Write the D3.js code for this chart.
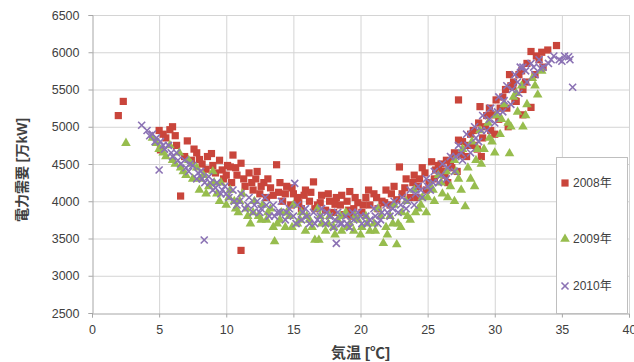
<!DOCTYPE html>
<html>
<head>
<meta charset="utf-8">
<script src="https://cdn.jsdelivr.net/npm/d3@7"></script>
<style>
  html, body { margin: 0; padding: 0; background: #fff; }
  svg text { font-family: "Liberation Sans", "Noto Sans CJK JP", sans-serif; fill: #404040; }
</style>
</head>
<body>
<div id="chart"></div>
<script>
// [気温, 電力需要] per year
var data2008 = [
  [1.96,5150],[2.33,5340],
  [5.0,4950],[5.3,4900],[5.8,4960],[6.0,5000],[5.1,4690],[6.3,4750],[6.6,4070],[7.1,4810],[6.9,4600],[7.4,4550],
  [7.8,4650],[8.2,4500],[8.5,4430],[8.9,4640],[9.2,4380],[9.5,4550],[9.8,4300],[10.1,4480],[10.5,4620],[10.3,4460],[10.4,4250],
  [10.8,4350],[11.1,4510],[11.1,3340],[11.4,4200],[11.7,4380],[12.0,4150],[12.2,4300],[12.5,4100],[12.8,4250],[13.0,4050],
  [13.3,4180],[13.75,4490],[13.9,4120],[14.2,4000],[14.5,4200],[14.8,3950],[15.0,4100],
  [15.3,4050],[15.6,3900],[15.9,4150],[16.2,4000],[16.5,4260],[16.8,3950],[17.1,4080],[17.4,3880],[17.7,4000],[18.0,3850],
  [18.2,4050],[18.5,3950],[18.8,3820],[19.0,4000],[19.2,4130],[19.5,3900],[19.8,3980],[20.1,3850],[20.4,4050],
  [20.7,3950],[21.0,4100],[21.3,3900],[21.6,4000],[21.9,4150],[22.2,3950],[22.5,4200],[22.9,4460],[23.1,4100],[23.4,4300],
  [23.7,4050],[24.0,4350],[24.3,4200],[24.6,4450],[24.9,4150],[25.3,4530],[25.5,4300],[25.8,4480],
  [26.1,4400],[26.4,4550],[26.7,4510],[26.9,4580],[27.0,4650],[27.3,5360],[27.3,4820],[27.2,4400],[27.6,4800],[27.9,4600],
  [28.2,4900],[28.5,4750],[28.9,5270],[28.8,5050],[29.1,4850],[29.4,5150],[29.9,5160],[29.7,4950],[30.1,5360],[30.3,5100],
  [30.6,5400],[30.9,5250],[31.1,5700],[31.35,5540],[31.6,5340],[31.2,5550],[31.5,5350],[31.8,5700],[32.1,5160],[32.1,5500],
  [32.4,5850],[32.7,5260],[32.7,6010],[33.0,5700],[33.3,5900],[33.95,6030],[34.6,6090],[33.6,5800],[31.0,5000],[29.0,4600],
  [5.5,4850],[6.2,4880],[7.6,4700],[8.0,4560],[8.6,4600],[9.0,4480],[9.7,4420],[10.0,4350],[10.7,4450],[11.3,4300],
  [11.9,4250],[12.3,4400],[12.6,4200],[13.1,4300],[13.5,4080],[14.0,4250],[14.4,4100],[14.9,4180],[15.4,3980],[15.8,4080],
  [16.3,4120],[16.6,3900],[17.0,3980],[17.6,4100],[18.1,3960],[18.6,4080],[19.1,3880],[19.6,4050],[20.2,3950],[20.6,4150],
  [21.2,4050],[21.8,3980],[22.3,4100],[22.7,4020],[23.3,4180],[23.9,4250],[24.4,4300],[24.8,4380],[25.1,4250],[25.6,4420],
  [26.0,4500],[26.3,4350],[26.8,4450],[27.5,4620],[28.0,4750],[28.4,4950],[28.7,4700],[29.3,5000],[29.6,5250],[30.4,5250],
  [30.8,5500],[31.4,5600],[32.0,5750],[32.3,5600],[33.1,5950],[33.5,6000],[30.0,4900],[26.5,4250],[24.2,4050],[19.3,3800]
];
var data2009 = [
  [2.53,4780],
  [4.5,4850],[5.0,4700],[5.5,4600],[5.8,4750],[6.2,4500],[6.5,4650],[6.8,4400],[7.2,4550],[7.5,4300],[7.8,4450],[8.0,4150],
  [8.3,4350],[8.7,4200],[9.0,4400],[9.3,4100],[9.6,4250],[10.0,3950],[10.3,4150],
  [10.6,4000],[10.9,3850],[11.2,4100],[11.5,3900],[11.8,3700],[12.1,4000],[12.4,3800],[12.7,3950],[13.0,3750],[13.3,3900],
  [13.6,3460],[13.8,3700],[14.1,3850],[14.4,3650],[14.7,3800],[15.0,3950],
  [15.3,3700],[15.6,3850],[15.9,3600],[16.2,3750],[16.6,3480],[16.9,3480],[16.8,3900],[17.1,3700],[17.4,3600],[17.7,3800],
  [18.0,3650],[18.3,3750],[18.6,3600],[18.9,3850],[19.2,3700],[19.5,3600],[19.8,3750],[20.1,3650],
  [20.4,3800],[20.7,3600],[21.0,3700],[21.3,3900],[21.7,3435],[21.9,3650],[22.2,3800],[22.7,3420],[22.5,3950],[22.8,3700],
  [23.1,3850],[23.4,4000],[23.7,3750],[24.0,4150],[24.3,3900],[24.6,4050],[24.9,3850],
  [25.2,4200],[25.5,4000],[25.8,4350],[26.1,4100],[26.4,4400],[26.7,4200],[27.0,4550],[27.3,4300],[27.6,4700],[27.8,3930],
  [28.0,4450],[28.3,4800],[28.6,4550],[28.9,4950],[29.2,4700],[29.5,5050],[29.8,4800],
  [30.1,5150],[30.4,4900],[30.7,5300],[31.1,4640],[31.0,5050],[31.4,5400],[31.7,5200],[32.1,5000],[32.0,5550],[32.4,5300],
  [32.8,5650],[33.2,5430],[33.5,5750],
  [4.8,4780],[5.3,4650],[6.0,4550],[6.6,4450],[7.0,4350],[7.4,4500],[8.1,4300],[8.5,4100],[9.1,4250],[9.5,4000],
  [10.2,4050],[10.7,3900],[11.0,4000],[11.6,3800],[12.0,3850],[12.6,3750],[13.1,3850],[13.5,3650],[14.0,3750],[14.5,3850],
  [14.9,3650],[15.5,3750],[16.0,3800],[16.4,3650],[17.0,3800],[17.6,3700],[18.1,3550],[18.5,3800],[19.0,3650],[19.6,3800],
  [20.0,3550],[20.5,3700],[21.1,3600],[21.5,3800],[22.0,3550],[22.4,3700],[23.0,3650],[23.5,3800],[24.1,3850],[24.5,3950],
  [25.0,4050],[25.4,4150],[26.0,4250],[26.5,4050],[27.1,4400],[27.5,4150],[28.2,4300],[28.7,4700],[29.0,4500],[29.6,4850],
  [30.0,4650],[30.5,5100],[31.2,5000],[31.6,5450],[32.3,5150],[33.0,5550],[27.0,4000],[28.5,4200]
];
var data2010 = [
  [3.7,5020],[4.1,4950],[4.5,4900],[4.8,4850],[5.1,4800],[5.0,4420],[5.4,4700],[5.7,4750],[6.0,4600],[6.3,4650],[6.6,4500],
  [6.9,4550],[7.2,4400],[7.5,4480],[7.8,4300],[8.1,4400],[8.36,3480],[8.4,4250],[8.7,4330],[9.0,4150],[9.3,4250],[9.6,4100],[9.9,4200],
  [10.2,4050],[10.5,4150],[10.8,3950],[11.1,4100],[11.4,3900],[11.7,4050],[12.0,3850],[12.3,4000],[12.6,3900],[12.9,4050],
  [13.2,3800],[13.5,3950],[13.8,3850],[14.1,4000],[14.4,3750],[14.7,3900],[15.1,4240],[15.0,3800],
  [15.3,3950],[15.6,3750],[15.9,3900],[16.2,3700],[16.5,3850],[16.8,3750],[17.1,3900],[17.4,3700],[17.7,3800],[18.0,3650],
  [18.2,3435],[18.3,3850],[18.6,3700],[18.9,3800],[19.2,3650],[19.5,3750],[19.8,3850],[20.1,3700],
  [20.4,3800],[20.7,3750],[21.0,3900],[21.3,3700],[21.6,3850],[21.9,3950],[22.2,3800],[22.5,4000],[22.8,3850],[23.1,4050],
  [23.4,3900],[23.7,4150],[24.0,3950],[24.3,4200],[24.6,4050],[24.9,4300],
  [25.2,4150],[25.5,4400],[25.8,4250],[26.1,4500],[26.4,4300],[26.7,4600],[27.0,4400],[27.3,4750],[27.6,4550],[27.9,4900],
  [28.2,4650],[28.5,5000],[28.8,4800],[29.1,5150],[29.4,4950],[29.7,5250],[30.0,5050],
  [30.3,5400],[30.6,5200],[30.9,5550],[31.2,5300],[31.5,5700],[31.8,5450],[31.9,5800],[32.1,5800],[32.4,5600],[32.7,5850],
  [33.0,5700],[33.4,5785],[33.3,5900],[33.6,5800],[34.0,5850],[34.4,5950],[34.8,5900],[35.2,5950],[35.5,5940],[35.8,5530],[35.6,5900],
  [4.3,4880],[4.7,4800],[5.3,4750],[5.9,4650],[6.4,4550],[7.0,4450],[7.3,4500],[7.9,4380],[8.2,4300],[8.8,4250],
  [9.2,4180],[9.7,4150],[10.0,4100],[10.6,4000],[11.0,4000],[11.6,3950],[12.1,3950],[12.5,3850],[13.0,3950],[13.6,3800],
  [14.0,3850],[14.5,3850],[15.2,3700],[15.7,3850],[16.0,3800],[16.6,3700],[17.0,3800],[17.5,3850],[18.1,3750],[18.5,3700],
  [19.0,3700],[19.4,3850],[20.0,3800],[20.5,3700],[21.1,3800],[21.5,3750],[22.0,3850],[22.4,3900],[23.0,3950],[23.5,4000],
  [24.1,4100],[24.5,4150],[25.0,4200],[25.4,4250],[26.0,4350],[26.5,4450],[27.1,4600],[27.5,4650],[28.0,4750],[28.6,4850],
  [29.0,4950],[29.6,5100],[30.2,5200],[30.7,5350],[31.3,5500],[31.7,5600],[32.3,5750],[32.9,5800],[34.2,5900],[35.0,5880]
];

var seriesNames = ["2008年", "2009年", "2010年"];
var xTicks = [0, 5, 10, 15, 20, 25, 30, 35, 40];
var yTicks = [2500, 3000, 3500, 4000, 4500, 5000, 5500, 6000, 6500];

var width = 634, height = 362;
var margin = {left: 92, right: 5, top: 15, bottom: 49};

var svg = d3.select("#chart").append("svg")
  .attr("width", width)
  .attr("height", height);

var x = d3.scaleLinear().domain([0, 40]).range([margin.left, width - margin.right]);
var y = d3.scaleLinear().domain([2500, 6500]).range([height - margin.bottom, margin.top]);

// gridlines
svg.append("g").selectAll("line")
  .data(yTicks.slice(1))
  .enter().append("line")
  .attr("x1", x(0)).attr("x2", x(40))
  .attr("y1", function(d) { return y(d) + 0.5; })
  .attr("y2", function(d) { return y(d) + 0.5; })
  .attr("stroke", "#d4d4d4");

svg.append("g").selectAll("line")
  .data(xTicks.slice(1))
  .enter().append("line")
  .attr("y1", y(2500)).attr("y2", y(6500))
  .attr("x1", function(d) { return x(d) + 0.5; })
  .attr("x2", function(d) { return x(d) + 0.5; })
  .attr("stroke", "#d4d4d4");

// axes
var xAxis = d3.axisBottom(x).tickValues(xTicks).tickSize(4).tickPadding(8);
var yAxis = d3.axisLeft(y).tickValues(yTicks).tickSize(4).tickPadding(9).tickFormat(d3.format("d"));

var gx = svg.append("g").attr("transform", "translate(0," + (y(2500) + 0.5) + ")").call(xAxis);
var gy = svg.append("g").attr("transform", "translate(" + (x(0) + 0.5) + ",0)").call(yAxis);

[gx, gy].forEach(function(g) {
  g.select(".domain").attr("stroke", "#a6a6a6");
  g.selectAll(".tick line").attr("stroke", "#a6a6a6");
  g.selectAll(".tick text").attr("font-size", 12.5).style("fill", "#404040");
});

// axis titles
svg.append("text")
  .attr("x", x(20))
  .attr("y", 358)
  .attr("text-anchor", "middle")
  .attr("font-size", 15)
  .attr("font-weight", "bold")
  .text("気温 [℃]");

svg.append("text")
  .attr("transform", "translate(27,170) rotate(-90)")
  .attr("text-anchor", "middle")
  .attr("font-size", 14)
  .attr("font-weight", "bold")
  .text("電力需要 [万kW]");

// markers
var colors = ["#c9453b", "#97bd4e", "#8b72b4"];
var sq = d3.symbol().type(d3.symbolSquare).size(52);
var tri = d3.symbol().type(d3.symbolTriangle).size(40);
var cross = d3.symbol().type(d3.symbolX).size(34);

function drawSeries(data, sym, i, stroke) {
  var g = svg.append("g");
  g.selectAll("path")
    .data(data)
    .enter().append("path")
    .attr("transform", function(d) { return "translate(" + x(d[0]) + "," + y(d[1]) + ")"; })
    .attr("d", sym)
    .attr("fill", stroke ? "none" : colors[i])
    .attr("stroke", stroke ? colors[i] : "none")
    .attr("stroke-width", stroke ? 1.6 : 0);
}

drawSeries(data2008, sq, 0, false);
drawSeries(data2009, tri, 1, false);
drawSeries(data2010, cross, 2, true);

// legend
var legend = svg.append("g");
legend.append("rect")
  .attr("x", 556.5).attr("y", 157.5)
  .attr("width", 71).attr("height", 156)
  .attr("fill", "#fff")
  .attr("stroke", "#bfbfbf");

var legY = [183, 239, 286];
var legSyms = [sq, tri, cross];
seriesNames.forEach(function(name, i) {
  legend.append("path")
    .attr("transform", "translate(565," + legY[i] + ")")
    .attr("d", legSyms[i])
    .attr("fill", i == 2 ? "none" : colors[i])
    .attr("stroke", i == 2 ? colors[i] : "none")
    .attr("stroke-width", 1.6);
  legend.append("text")
    .attr("x", 573)
    .attr("y", legY[i] + 4)
    .attr("font-size", 12)
    .text(name);
});
</script>
</body>
</html>
